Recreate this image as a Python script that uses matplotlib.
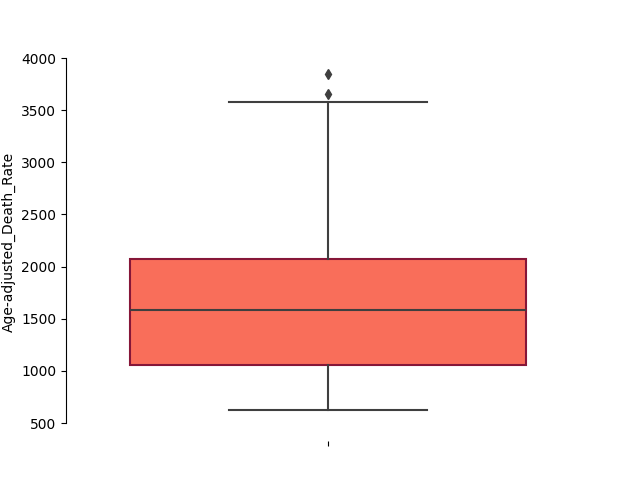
import matplotlib
matplotlib.use("Agg")
import matplotlib.pyplot as plt
import seaborn as sns

# Box statistics
whisker_low = 625
q1 = 1056
median = 1583
q3 = 2072
whisker_high = 3578
outliers = [3654, 3846]
ylabel = "Age-adjusted_Death_Rate"

box_color = "#F96E5A"
edge_color = "#861638"
gray = "#3f3f3f"

fig, ax = plt.subplots(figsize=(6.4, 4.8), dpi=100)
stats = [dict(whislo=whisker_low, q1=q1, med=median, q3=q3, whishi=whisker_high,
              fliers=outliers)]
ax.bxp(stats, positions=[0], widths=0.8, capwidths=[0.4], patch_artist=True,
       showfliers=True,
       boxprops=dict(facecolor=box_color, edgecolor=edge_color, linewidth=1.5),
       medianprops=dict(color=gray, linewidth=1.5),
       whiskerprops=dict(color=gray, linewidth=1.5),
       capprops=dict(color=gray, linewidth=1.5),
       flierprops=dict(marker="d", markerfacecolor=gray, markeredgecolor=gray,
                       markersize=5))
ax.set_xlim(-0.5, 0.5)
ax.set_xticks([0])
ax.set_xticklabels([""])
ax.set_ylim(460, 4004)
ax.set_yticks(range(500, 4001, 500))
ax.set_ylabel(ylabel)
sns.despine(ax=ax, offset=10, trim=True)
fig.savefig("out.png", dpi=100)
